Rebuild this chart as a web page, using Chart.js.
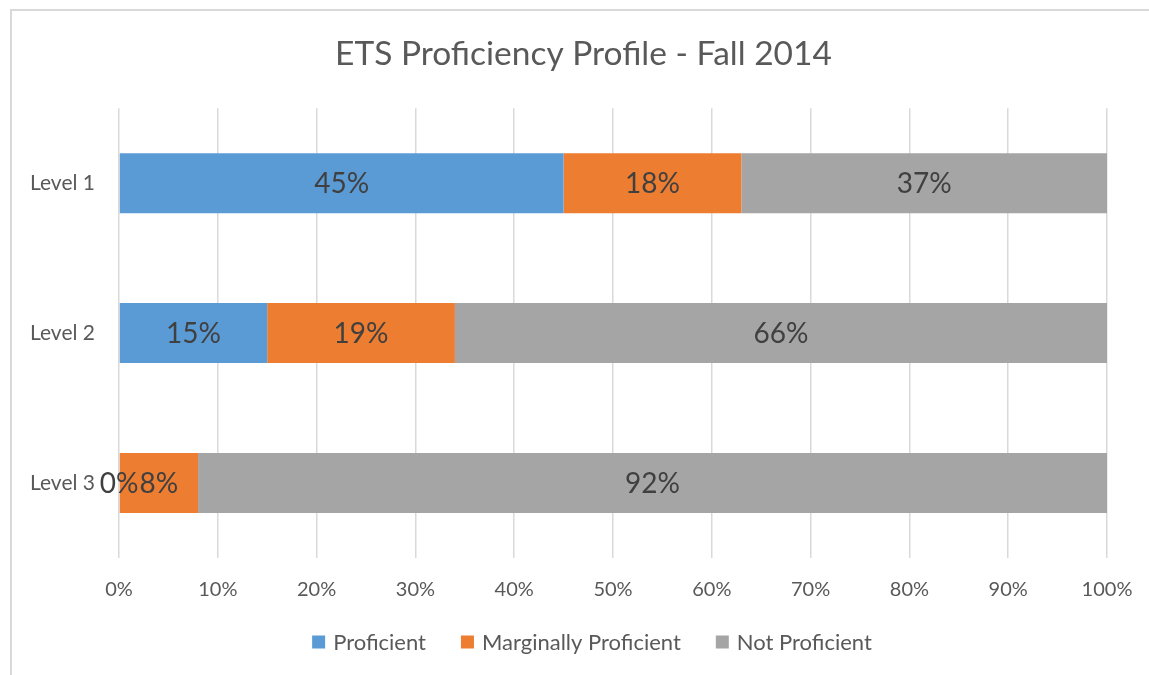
<!DOCTYPE html>
<html>
<head>
<meta charset="utf-8">
<script src="https://cdn.jsdelivr.net/npm/chart.js@4.4.1/dist/chart.umd.min.js"></script>
<style>
  html, body { margin: 0; padding: 0; background: #fff; }
  #wrap { position: relative; width: 1149px; height: 675px; }
</style>
</head>
<body>
<div id="wrap"><canvas id="chart"></canvas></div>
<script>
'use strict';

// data
const levels = ['Level 1', 'Level 2', 'Level 3'];
const proficient = [45, 15, 0];
const marginal = [18, 19, 8];
const notProficient = [37, 66, 92];
const seriesNames = ['Proficient', 'Marginally Proficient', 'Not Proficient'];
const colors = ['#5B9BD5', '#ED7D31', '#A5A5A5'];

const fontFamily = 'Lato, "Open Sans", sans-serif';
const textColor = '#595959';

// percent labels in the middle of each segment
const barLabels = {
  id: 'barLabels',
  afterDatasetsDraw(chart) {
    const ctx = chart.ctx;
    ctx.save();
    ctx.font = '28px ' + fontFamily;
    ctx.fillStyle = '#404040';
    ctx.textAlign = 'center';
    ctx.textBaseline = 'middle';
    chart.data.datasets.forEach((ds, i) => {
      const meta = chart.getDatasetMeta(i);
      meta.data.forEach((bar, j) => {
        const cx = (bar.x + bar.base) / 2;
        ctx.fillText(ds.data[j] + '%', cx, bar.y + 1);
      });
    });
    ctx.restore();
  }
};

// legend under the axis, laid out like the office one (small square, wide gaps)
const bottomLegend = {
  id: 'bottomLegend',
  afterDraw(chart) {
    const ctx = chart.ctx;
    const y = 642, box = 13, gap = 8, spacing = 35;
    ctx.save();
    ctx.font = '22px ' + fontFamily;
    ctx.textBaseline = 'middle';
    let total = 0;
    chart.data.datasets.forEach((ds, i) => {
      total += box + gap + ctx.measureText(ds.label).width;
      if (i > 0) total += spacing;
    });
    let x = 592 - total / 2;
    chart.data.datasets.forEach(ds => {
      ctx.fillStyle = ds.backgroundColor;
      ctx.fillRect(x, y - box / 2, box, box);
      x += box + gap;
      ctx.fillStyle = textColor;
      ctx.fillText(ds.label, x, y + 1);
      x += ctx.measureText(ds.label).width + spacing;
    });
    ctx.restore();
  }
};

// thin frame (only top and left show) and title nudged to where office put it
const frame = {
  id: 'frame',
  afterLayout(chart) {
    chart.titleBlock.left += 60;
  },
  beforeDraw(chart) {
    const ctx = chart.ctx;
    ctx.save();
    ctx.strokeStyle = '#d9d9d9';
    ctx.lineWidth = 2;
    ctx.beginPath();
    ctx.moveTo(11, 675);
    ctx.lineTo(11, 10);
    ctx.lineTo(1149, 10);
    ctx.stroke();
    ctx.restore();
  }
};

function renderChart() {
  const ctx = document.getElementById('chart');
  const data = {
    labels: levels,
    datasets: [
      { label: seriesNames[0], data: proficient, backgroundColor: colors[0] },
      { label: seriesNames[1], data: marginal, backgroundColor: colors[1] },
      { label: seriesNames[2], data: notProficient, backgroundColor: colors[2] }
    ]
  };
  data.datasets.forEach(d => {
    d.borderWidth = 0;
    d.barPercentage = 0.4;
    d.categoryPercentage = 1;
  });

  new Chart(ctx, {
    type: 'bar',
    data: data,
    options: {
      indexAxis: 'y',
      responsive: true,
      maintainAspectRatio: false,
      animation: false,
      layout: { padding: { left: 0, right: 42, top: 0, bottom: 53 } },
      plugins: {
        title: {
          display: true,
          text: 'ETS Proficiency Profile - Fall 2014',
          color: textColor,
          font: { family: fontFamily, size: 33.5, weight: 'normal' },
          padding: { top: 34, bottom: 34 }
        },
        legend: { display: false },
        tooltip: { enabled: false }
      },
      scales: {
        x: {
          stacked: true,
          min: 0,
          max: 100,
          ticks: {
            stepSize: 10,
            color: textColor,
            font: { family: fontFamily, size: 20 },
            padding: 20,
            callback: v => v + '%'
          },
          grid: { color: '#d9d9d9', lineWidth: 1.5, drawTicks: false },
          border: { display: false },
          afterFit: s => { s.paddingRight = 0; }
        },
        y: {
          stacked: true,
          ticks: {
            color: textColor,
            font: { family: fontFamily, size: 21 },
            padding: 24
          },
          grid: { display: false, drawTicks: false },
          border: { display: false },
          afterFit: s => { s.width = 119; }
        }
      }
    },
    plugins: [barLabels, bottomLegend, frame]
  });
}
renderChart();
</script>
</body>
</html>
